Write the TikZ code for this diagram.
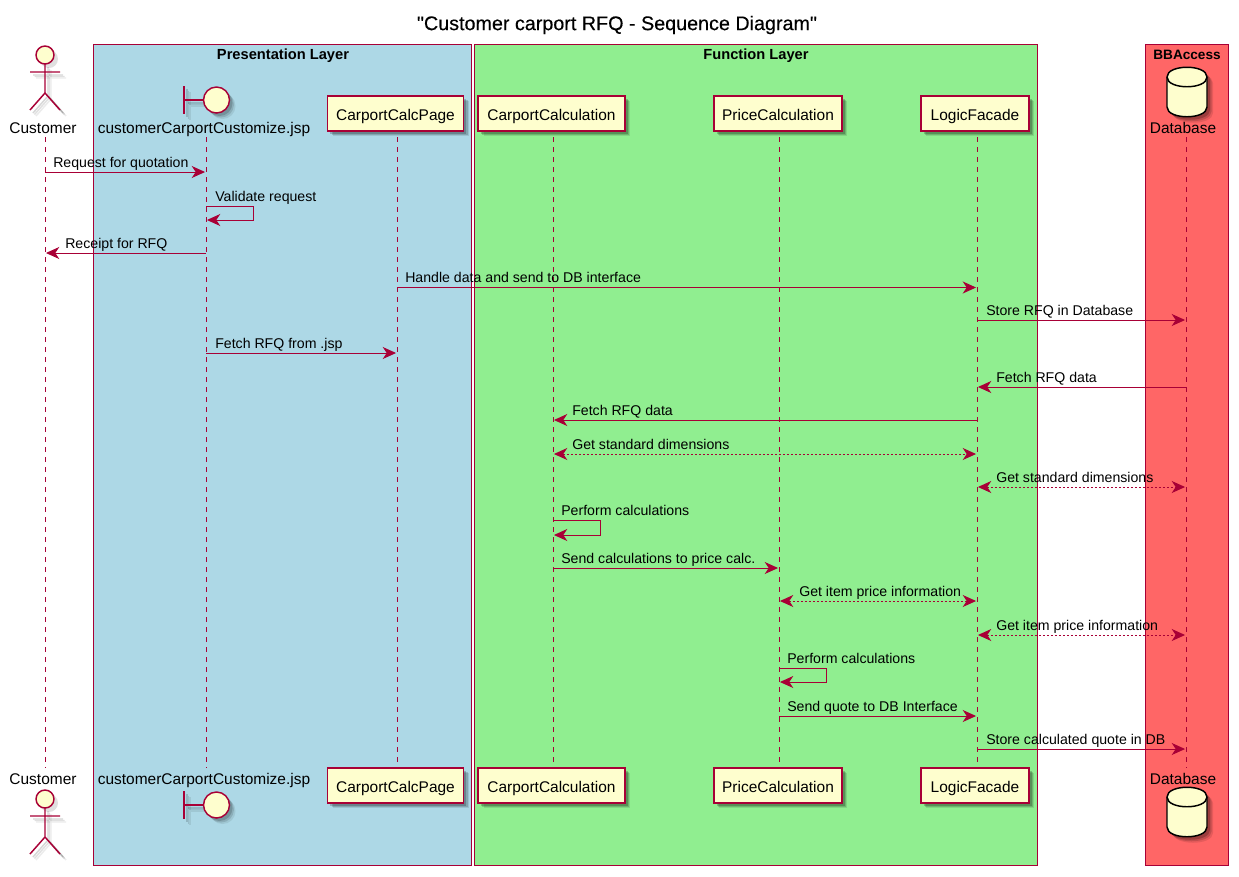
\documentclass[tikz,border=0pt]{standalone}
\usepackage{fontspec}
\setmainfont{Liberation Sans}
\newfontfamily\titlefont[FakeBold=0.25]{Liberation Sans}
\usetikzlibrary{arrows.meta,shadows}
\definecolor{pumlred}{HTML}{A80036}
\definecolor{pumlfill}{HTML}{FEFECE}
\definecolor{layerblue}{HTML}{ADD8E6}
\definecolor{layergreen}{HTML}{90EE90}
\definecolor{layerred}{HTML}{FF6666}
\newcommand{\msgfont}{\fontsize{10.6pt}{12pt}\selectfont}
\newcommand{\partfont}{\fontsize{11.6pt}{13pt}\selectfont}
\tikzset{
  softshadow/.style={
    general shadow={fill=black,opacity=.10,shadow xshift=4pt,shadow yshift=-4pt},
    general shadow={fill=black,opacity=.15,shadow xshift=3pt,shadow yshift=-3pt},
    general shadow={fill=black,opacity=.20,shadow xshift=2.2pt,shadow yshift=-2.2pt}},
  layerbox/.style={draw=pumlred,line width=.8pt,inner sep=0pt},
  layertitle/.style={font=\fontsize{11pt}{12pt}\selectfont\bfseries,inner sep=0pt,text=black,text height=8pt,text depth=3pt},
  partbox/.style={draw=pumlred,fill=pumlfill,line width=1.1pt,inner sep=0pt,font=\partfont,softshadow,minimum height=26.25pt,text height=12.3pt,text depth=2.5pt},
  partlabel/.style={font=\partfont,inner sep=0pt,text height=9pt,text depth=2.6pt},
  lifeline/.style={draw=pumlred,line width=.75pt,dash pattern=on 3.75pt off 3.75pt},
  msgline/.style={draw=pumlred,line width=.75pt,shorten >=.7pt,-{Stealth[length=10pt,width=9pt,inset=3pt]}},
  biline/.style={draw=pumlred,line width=.75pt,dash pattern=on 1.5pt off 1.5pt,shorten >=.7pt,shorten <=.7pt,{Stealth[length=10pt,width=9pt,inset=3pt]}-{Stealth[length=10pt,width=9pt,inset=3pt]}},
  msgtext/.style={font=\msgfont,inner sep=0pt,anchor=west,text=black,text height=8pt,text depth=3pt},
  actorlimb/.style={draw=pumlred,line width=1.1pt},
  boundpart/.style={draw=pumlred,line width=1.1pt},
}
\newcommand{\actorfig}[2]{% x, y of head centre
  \begin{scope}[shift={(#1,#2)}]
    \foreach \s/\o in {6/.08,4.5/.12,3/.16}{
      \draw[black,opacity=\o,line width=1.1pt,shift={(\s,\s)}] (-15,17) -- (15,17) (0,9) -- (0,38) -- (-15,55) (0,38) -- (15,55);
    }
    \fill[black,opacity=.12] (4,4) circle (9);
    \draw[actorlimb] (-15,17) -- (15,17) (0,9) -- (0,38) -- (-15,55) (0,38) -- (15,55);
    \draw[actorlimb,fill=pumlfill] (0,0) circle (9);
  \end{scope}}
\newcommand{\boundaryfig}[2]{% x, y of bar centre
  \begin{scope}[shift={(#1,#2)}]
    \foreach \s/\o in {6/.08,4.5/.12,3/.16}{
      \draw[black,opacity=\o,line width=1.1pt,shift={(\s,\s)}] (0,-14) -- (0,14) (0,0) -- (19,0);
      \fill[black,opacity=\o,shift={(\s,\s)}] (32.5,0) circle (13);
    }
    \draw[boundpart] (0,-14) -- (0,14) (0,0) -- (19,0);
    \draw[boundpart,fill=pumlfill] (32.5,0) circle (13);
  \end{scope}}
\newcommand{\dbfig}[2]{% x centre, y top
  \begin{scope}[shift={(#1,#2)}]
    \foreach \s/\o in {6/.10,4.5/.15,3/.20}{
      \fill[black,opacity=\o,shift={(\s,\s)}] (-20,10) .. controls (-20,-3) and (20,-3) .. (20,10) -- (20,40) .. controls (20,53) and (-20,53) .. (-20,40) -- cycle;
    }
    \draw[black,line width=1.1pt,fill=pumlfill] (-20,10) .. controls (-20,-3) and (20,-3) .. (20,10) -- (20,40) .. controls (20,53) and (-20,53) .. (-20,40) -- cycle;
    \draw[black,line width=1.1pt] (-20,10) .. controls (-20,23) and (20,23) .. (20,10);
  \end{scope}}
\begin{document}
\begin{tikzpicture}[x=.75pt,y=-.75pt]
\useasboundingbox (0,0) rectangle (1239,876);
% title
\node[inner sep=0pt,font=\titlefont\fontsize{14.8pt}{16pt}\selectfont,text=black] (title) at (617,25) {"Customer carport RFQ - Sequence Diagram"};
% layers
\node[layerbox,fill=layerblue,minimum width=283.5pt,minimum height=615.75pt] (presbox) at (282.5,455) {};
\node[layerbox,fill=layergreen,minimum width=422.25pt,minimum height=615.75pt] (funcbox) at (756,455) {};
\node[layerbox,fill=layerred,minimum width=62.25pt,minimum height=615.75pt] (dbbox) at (1187,455) {};
\node[layertitle] (prestitle) at (283,56) {Presentation Layer};
\node[layertitle] (functitle) at (756,56) {Function Layer};
\node[layertitle,font=\fontsize{10.2pt}{12pt}\selectfont\bfseries] (dbtitle) at (1187,56) {BBAccess};
% lifeline ends
\coordinate (Lcust) at (45,137);   \coordinate (Bcust) at (45,768);
\coordinate (Ljsp) at (206,137);   \coordinate (Bjsp) at (206,768);
\coordinate (Lpage) at (397,137);  \coordinate (Bpage) at (397,768);
\coordinate (Lcarp) at (553,137);  \coordinate (Bcarp) at (553,768);
\coordinate (Lprice) at (779,137); \coordinate (Bprice) at (779,768);
\coordinate (Llogic) at (977,137); \coordinate (Blogic) at (977,768);
\coordinate (Ldb) at (1186,137);   \coordinate (Bdb) at (1186,768);
\foreach \n in {cust,jsp,page,carp,price,logic,db}{
  \draw[lifeline] (L\n) -- (B\n);
}
% top participants
\actorfig{45}{55}
\node[partlabel] (custtop) at (43,129) {Customer};
\boundaryfig{184}{100}
\node[partlabel] (jsptop) at (204,129) {customerCarportCustomize.jsp};
\node[partbox,minimum width=102pt] (pagetop) at (395.5,113.5) {CarportCalcPage};
\node[partbox,minimum width=110pt] (carptop) at (551.5,113.5) {CarportCalculation};
\node[partbox,minimum width=96pt] (pricetop) at (778,113.5) {PriceCalculation};
\node[partbox,minimum width=81pt] (logictop) at (975,113.5) {LogicFacade};
\dbfig{1187}{67}
\node[partlabel] (dbtop) at (1183,129) {Database};
% bottom participants
\node[partlabel] (custbot) at (43,780) {Customer};
\actorfig{45}{799}
\node[partlabel] (jspbot) at (204,780) {customerCarportCustomize.jsp};
\boundaryfig{184}{805}
\node[partbox,minimum width=102pt] (pagebot) at (395.5,785.5) {CarportCalcPage};
\node[partbox,minimum width=110pt] (carpbot) at (551.5,785.5) {CarportCalculation};
\node[partbox,minimum width=96pt] (pricebot) at (778,785.5) {PriceCalculation};
\node[partbox,minimum width=81pt] (logicbot) at (975,785.5) {LogicFacade};
\node[partlabel] (dbbot) at (1183,780) {Database};
\dbfig{1187}{787}
% messages
\draw[msgline] (Lcust |- 0,172) -- (Ljsp |- 0,172);
\node[msgtext] (m1) at (53,164.5) {Request for quotation};
\draw[msgline] (Ljsp |- 0,206) -- ++(47,0) -- ++(0,14) -- (Ljsp |- 0,220);
\node[msgtext] (m2) at (215,198.5) {Validate request};
\draw[msgline] (Ljsp |- 0,253) -- (Lcust |- 0,253);
\node[msgtext] (m3) at (65,245.5) {Receipt for RFQ};
\draw[msgline] (Lpage |- 0,287.5) -- (Llogic |- 0,287.5);
\node[msgtext] (m4) at (405,279) {Handle data and send to DB interface};
\draw[msgline] (Llogic |- 0,320) -- (Ldb |- 0,320);
\node[msgtext] (m5) at (986,312.5) {Store RFQ in Database};
\draw[msgline] (Ljsp |- 0,353) -- (Lpage |- 0,353);
\node[msgtext] (m6) at (215,345.5) {Fetch RFQ from .jsp};
\draw[msgline] (Ldb |- 0,387) -- (Llogic |- 0,387);
\node[msgtext] (m7) at (996,379.5) {Fetch RFQ data};
\draw[msgline] (Llogic |- 0,420) -- (Lcarp |- 0,420);
\node[msgtext] (m8) at (572,412.5) {Fetch RFQ data};
\draw[biline] (Lcarp |- 0,454) -- (Llogic |- 0,454);
\node[msgtext] (m9) at (572,446) {Get standard dimensions};
\draw[biline] (Llogic |- 0,487) -- (Ldb |- 0,487);
\node[msgtext] (m10) at (996,479.5) {Get standard dimensions};
\draw[msgline] (Lcarp |- 0,520) -- ++(47,0) -- ++(0,15) -- (Lcarp |- 0,535);
\node[msgtext] (m11) at (561,512.5) {Perform calculations};
\draw[msgline] (Lcarp |- 0,568) -- (Lprice |- 0,568);
\node[msgtext] (m12) at (561,560.5) {Send calculations to price calc.};
\draw[biline] (Lprice |- 0,601) -- (Llogic |- 0,601);
\node[msgtext] (m13) at (799,593.5) {Get item price information};
\draw[biline] (Llogic |- 0,635) -- (Ldb |- 0,635);
\node[msgtext] (m14) at (996,627.5) {Get item price information};
\draw[msgline] (Lprice |- 0,668) -- ++(47,0) -- ++(0,14) -- (Lprice |- 0,682);
\node[msgtext] (m15) at (787,660.5) {Perform calculations};
\draw[msgline] (Lprice |- 0,716) -- (Llogic |- 0,716);
\node[msgtext] (m16) at (787,708.5) {Send quote to DB Interface};
\draw[msgline] (Llogic |- 0,749) -- (Ldb |- 0,749);
\node[msgtext] (m17) at (986,741.5) {Store calculated quote in DB};
\end{tikzpicture}
\end{document}
